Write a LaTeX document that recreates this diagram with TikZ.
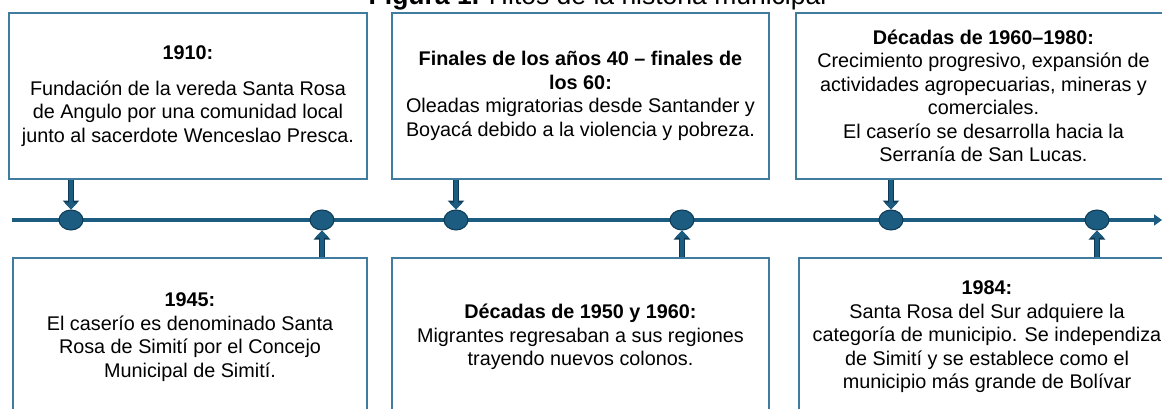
\documentclass[tikz,border=0pt]{standalone}
\usepackage{fontspec}
\setmainfont{Liberation Sans}
\usepackage{xcolor}
\usepackage{tikz}
\usetikzlibrary{positioning,calc,arrows.meta,shapes.geometric}
\definecolor{BoxBlue}{RGB}{64,124,160}
\definecolor{LineBlue}{RGB}{27,92,128}
\definecolor{DarkBlue}{RGB}{14,58,86}

\begin{document}
\begin{tikzpicture}[x=1pt, y=1pt,
    % Style cho các ô sự kiện
    eventbox/.style={
        draw=BoxBlue, line width=1.8pt,
        align=center, inner sep=0pt,
        font=\fontsize{19.8}{23.5}\selectfont
    },
    topbox/.style={eventbox, minimum height=166pt},
    bottombox/.style={eventbox, minimum height=158pt},
    % Style cho trục thời gian
    timeline/.style={
        draw=LineBlue, line width=3.6pt,
        -{Triangle[width=11pt,length=8pt]}
    },
    % Style cho các mốc (chấm elip)
    milestone/.style={
        ellipse, fill=LineBlue, draw=DarkBlue, line width=1pt,
        minimum width=24pt, minimum height=20pt, inner sep=0pt
    },
    % Style cho mũi tên khối
    pointer/.style={
        draw=LineBlue, line width=4.6pt,
        -{Triangle[width=13pt,length=7pt]},
        preaction={draw=DarkBlue, line width=6.6pt, -{Triangle[width=16pt,length=9pt]}}
    }
]
    \useasboundingbox (0,0) rectangle (1162,-409);

    % --- Tiêu đề ---
    \node[anchor=base, font=\fontsize{26.5}{30}\selectfont, inner sep=0pt] (title) at (597.5,-5)
        {\textbf{Figura 1.} Hitos de la historia municipal};

    % --- 1. Trục thời gian ---
    \coordinate (tl start) at (12,-220);
    \coordinate (tl end) at (1162,-220);
    \draw[timeline] (tl start) -- (tl end);

    % --- 2. Các mốc ---
    \node[milestone] (t1) at (71,-220) {};
    \node[milestone] (t2) at (322,-220) {};
    \node[milestone] (t3) at (456,-220) {};
    \node[milestone] (t4) at (682,-220) {};
    \node[milestone] (t5) at (891,-220) {};
    \node[milestone] (t6) at (1097,-220) {};

    % --- 3. Các ô phía trên ---
    \node[topbox, minimum width=358pt] (b1) at (188,-96)
        {\textbf{1910:}\\[12pt]
         Fundación de la vereda Santa Rosa\\
         de Angulo por una comunidad local\\
         junto al sacerdote Wenceslao Presca.};
    \node[topbox, minimum width=377pt] (b3) at (580.5,-96)
        {\textbf{Finales de los años 40 – finales de}\\
         \textbf{los 60:}\\
         Oleadas migratorias desde Santander y\\
         Boyacá debido a la violencia y pobreza.};
    \node[topbox, minimum width=375pt] (b5) at (983.5,-96)
        {\textbf{Décadas de 1960–1980:}\\
         Crecimiento progresivo, expansión de\\
         actividades agropecuarias, mineras y\\
         comerciales.\\
         El caserío se desarrolla hacia la\\
         Serranía de San Lucas.};

    % --- 4. Các ô phía dưới ---
    \node[bottombox, minimum width=354pt] (b2) at (190,-337)
        {\textbf{1945:}\\
         El caserío es denominado Santa\\
         Rosa de Simití por el Concejo\\
         Municipal de Simití.};
    \node[bottombox, minimum width=377pt] (b4) at (580.5,-337)
        {\textbf{Décadas de 1950 y 1960:}\\
         Migrantes regresaban a sus regiones\\
         trayendo nuevos colonos.};
    \node[bottombox, minimum width=376pt] (b6) at (987,-337)
        {\textbf{1984:}\\
         Santa Rosa del Sur adquiere la\\
         categoría de municipio. Se independiza\\
         de Simití y se establece como el\\
         municipio más grande de Bolívar};

    % --- 5. Mũi tên nối ô với mốc ---
    \draw[pointer] (b1.south -| t1) -- (t1.north);
    \draw[pointer] (b3.south -| t3) -- (t3.north);
    \draw[pointer] (b5.south -| t5) -- (t5.north);
    \draw[pointer] (b2.north -| t2) -- (t2.south);
    \draw[pointer] (b4.north -| t4) -- (t4.south);
    \draw[pointer] (b6.north -| t6) -- (t6.south);
\end{tikzpicture}
\end{document}
